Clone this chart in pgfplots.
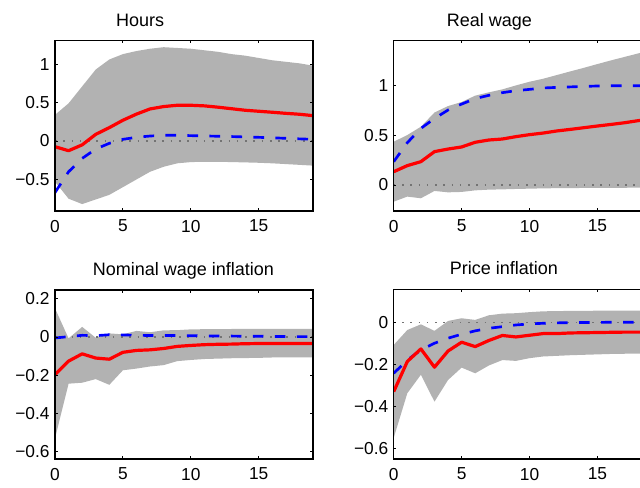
\documentclass[border=0pt]{standalone}
\usepackage{fontspec}
\setmainfont{Liberation Sans}
\usepackage{pgfplots}
\pgfplotsset{compat=1.18}
\usepackage{pgfplotstable}
\usepgfplotslibrary{fillbetween}
\definecolor{band}{rgb}{0.7,0.7,0.7}

\pgfplotstableread{
t red blue up lo
0 -0.074 -0.67 0.34 -0.53
1 -0.126 -0.40 0.49 -0.75
2 -0.05 -0.226 0.71 -0.82
3 0.087 -0.104 0.93 -0.76
4 0.174 -0.03 1.06 -0.70
5 0.27 0.022 1.13 -0.60
6 0.35 0.048 1.17 -0.50
7 0.417 0.065 1.20 -0.40
8 0.448 0.074 1.22 -0.335
9 0.465 0.074 1.21 -0.29
10 0.465 0.07 1.20 -0.274
11 0.457 0.066 1.18 -0.27
12 0.44 0.062 1.16 -0.27
13 0.42 0.058 1.13 -0.274
14 0.40 0.053 1.11 -0.278
15 0.387 0.048 1.08 -0.283
16 0.374 0.042 1.05 -0.29
17 0.36 0.035 1.03 -0.30
18 0.348 0.028 1.01 -0.31
19 0.33 0.022 0.98 -0.32
}\hours

\pgfplotstableread{
t red blue up lo
0 0.134 0.235 0.436 -0.168
1 0.195 0.426 0.503 -0.117
2 0.235 0.57 0.587 -0.134
3 0.336 0.67 0.73 -0.06
4 0.362 0.755 0.795 -0.074
5 0.383 0.815 0.836 -0.07
6 0.43 0.87 0.90 -0.054
7 0.453 0.903 0.933 -0.047
8 0.463 0.93 0.963 -0.044
9 0.487 0.95 1.003 -0.040
10 0.507 0.963 1.04 -0.037
11 0.523 0.977 1.07 -0.034
12 0.544 0.983 1.107 -0.032
13 0.56 0.988 1.144 -0.031
14 0.577 0.993 1.18 -0.030
15 0.594 0.997 1.218 -0.029
16 0.61 1.0 1.255 -0.028
17 0.627 1.0 1.29 -0.028
18 0.648 1.0 1.325 -0.027
19 0.664 1.0 1.36 -0.027
}\realwage

\pgfplotstableread{
t red blue up lo
0 -0.196 -0.005 0.15 -0.53
1 -0.126 0.002 -0.007 -0.244
2 -0.088 0.009 0.053 -0.239
3 -0.11 0.007 -0.004 -0.22
4 -0.116 0.012 0.019 -0.25
5 -0.08 0.011 0.014 -0.174
6 -0.07 0.009 0.032 -0.165
7 -0.067 0.008 0.025 -0.154
8 -0.06 0.008 0.035 -0.147
9 -0.049 0.008 0.036 -0.126
10 -0.044 0.007 0.040 -0.12
11 -0.04 0.006 0.041 -0.115
12 -0.038 0.005 0.041 -0.113
13 -0.037 0.005 0.042 -0.111
14 -0.035 0.004 0.042 -0.110
15 -0.034 0.004 0.042 -0.109
16 -0.034 0.003 0.042 -0.107
17 -0.034 0.003 0.042 -0.106
18 -0.034 0.002 0.042 -0.106
19 -0.034 0.002 0.042 -0.106
}\nomwage

\pgfplotstableread{
t red blue up lo
0 -0.33 -0.243 -0.108 -0.55
1 -0.187 -0.18 -0.037 -0.338
2 -0.127 -0.132 -0.01 -0.25
3 -0.214 -0.10 -0.041 -0.378
4 -0.137 -0.076 0.006 -0.275
5 -0.095 -0.057 0.019 -0.216
6 -0.116 -0.041 0.011 -0.243
7 -0.087 -0.029 0.033 -0.206
8 -0.063 -0.021 0.041 -0.18
9 -0.07 -0.013 0.043 -0.184
10 -0.062 -0.008 0.048 -0.171
11 -0.054 -0.005 0.052 -0.163
12 -0.054 -0.003 0.053 -0.160
13 -0.051 -0.002 0.054 -0.157
14 -0.050 -0.001 0.054 -0.155
15 -0.049 -0.001 0.055 -0.153
16 -0.048 0.0 0.055 -0.151
17 -0.047 0.0 0.055 -0.150
18 -0.047 0.0 0.055 -0.149
19 -0.047 0.0 0.055 -0.148
}\pricinf

\pgfplotsset{
  irf/.style={
    scale only axis,
    width=193.5pt,
    anchor=south west,
    xmin=0, xmax=19,
    xtick={0,5,10,15},
    xticklabels={0,5,10,15},
    tick align=inside,
    major tick length=1.95pt,
    axis line style={line width=0.8pt, black},
    tick style={line width=0.6pt, black},
    axis on top,
    ticklabel style={font=\fontsize{13}{15}\selectfont},
    xticklabel style={yshift=-3.2pt},
    yticklabel style={xshift=-0.6pt},
    every axis title/.style={at={(#1,1)}, anchor=base, yshift=11pt,
      font=\fontsize{13.5}{16}\selectfont},
  },
  bandst/.style={fill=band, draw=none},
  redst/.style={red, line width=2.4pt, line join=round},
  bluest/.style={blue, line width=2pt, dash pattern=on 8pt off 8.5pt},
  zerost/.style={black!55, line width=0.8pt, dash pattern=on 1.2pt off 5pt},
}

\begin{document}
\begin{tikzpicture}

% Hours
\begin{axis}[irf=0.33, at={(41.25pt,207pt)}, height=127.7pt,
  ymin=-0.91, ymax=1.304, ytick={-0.5,0,0.5,1},
  yticklabels={−0.5,0,0.5,1}, title={Hours}]
\addplot[name path=up, draw=none] table[x=t,y=up]{\hours};
\addplot[name path=lo, draw=none] table[x=t,y=lo]{\hours};
\addplot[bandst] fill between[of=up and lo];
\addplot[zerost] coordinates {(0,0) (19,0)};
\addplot[bluest] table[x=t,y=blue]{\hours};
\addplot[redst] table[x=t,y=red]{\hours};
\end{axis}

% Real wage
\begin{axis}[irf=0.371, at={(295.3pt,207pt)}, height=127.7pt,
  ymin=-0.262, ymax=1.453, ytick={0,0.5,1},
  yticklabels={0,0.5,1}, title={Real wage}]
\addplot[name path=up, draw=none] table[x=t,y=up]{\realwage};
\addplot[name path=lo, draw=none] table[x=t,y=lo]{\realwage};
\addplot[bandst] fill between[of=up and lo];
\addplot[zerost] coordinates {(0,0) (19,0)};
\addplot[bluest] table[x=t,y=blue]{\realwage};
\addplot[redst] table[x=t,y=red]{\realwage};
\end{axis}

% Nominal wage inflation
\begin{axis}[irf=0.498, at={(41.25pt,21pt)}, height=126.75pt,
  ymin=-0.638, ymax=0.246, ytick={-0.6,-0.4,-0.2,0,0.2},
  yticklabels={−0.6,−0.4,−0.2,0,0.2}, title={Nominal wage inflation}]
\addplot[name path=up, draw=none] table[x=t,y=up]{\nomwage};
\addplot[name path=lo, draw=none] table[x=t,y=lo]{\nomwage};
\addplot[bandst] fill between[of=up and lo];
\addplot[zerost] coordinates {(0,0) (19,0)};
\addplot[bluest] table[x=t,y=blue]{\nomwage};
\addplot[redst] table[x=t,y=red]{\nomwage};
\end{axis}

% Price inflation
\begin{axis}[irf=0.427, at={(295.3pt,21pt)}, height=127.3pt,
  ymin=-0.651, ymax=0.157, ytick={-0.6,-0.4,-0.2,0},
  yticklabels={−0.6,−0.4,−0.2,0}, title={Price inflation}]
\addplot[name path=up, draw=none] table[x=t,y=up]{\pricinf};
\addplot[name path=lo, draw=none] table[x=t,y=lo]{\pricinf};
\addplot[bandst] fill between[of=up and lo];
\addplot[zerost] coordinates {(0,0) (19,0)};
\addplot[bluest] table[x=t,y=blue]{\pricinf};
\addplot[redst] table[x=t,y=red]{\pricinf};
\end{axis}

\pgfresetboundingbox
\useasboundingbox (0,0) rectangle (480pt,365.25pt);
\end{tikzpicture}
\end{document}
